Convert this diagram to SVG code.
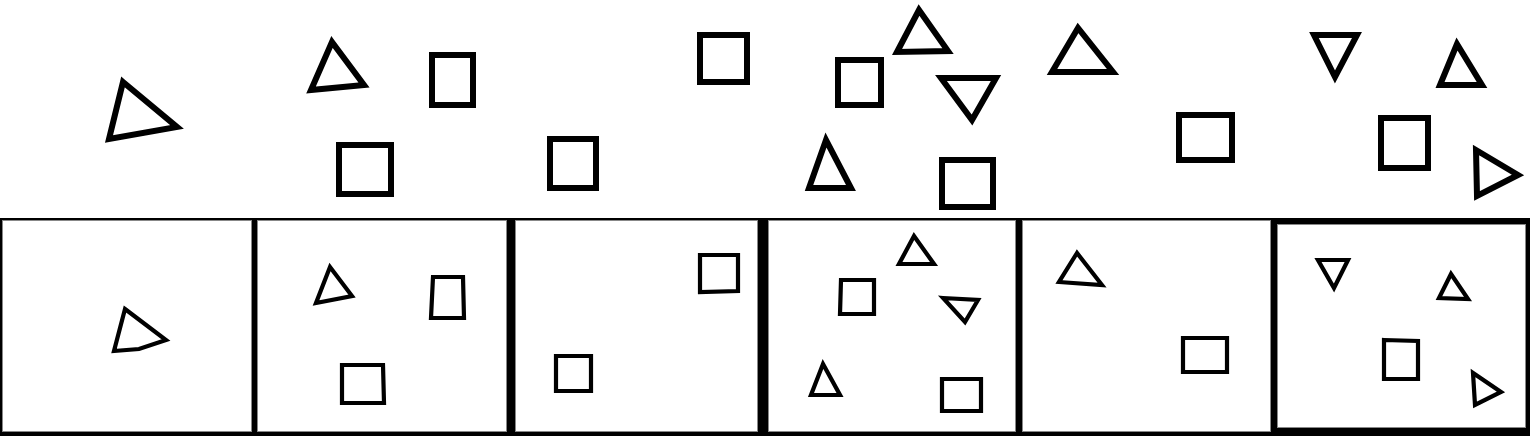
<svg xmlns="http://www.w3.org/2000/svg" width="1530" height="436" viewBox="0 0 1530 436">
<style>
.big{fill:none;stroke:#000;stroke-width:6;stroke-linejoin:miter}
.sm{fill:none;stroke:#000;stroke-width:4.2;stroke-linejoin:miter}
.panel{fill:#fff;stroke:#888;stroke-width:1}
</style>
<rect x="0" y="0" width="1530" height="436" fill="#fff"/>
<g id="scene">
<polygon class="big" points="123,82 177,127 109,139"/>
<polygon class="big" points="332,42 364,85 311,90"/>
<rect class="big" x="432" y="55" width="41" height="50"/>
<rect class="big" x="339" y="145" width="52" height="49"/>
<rect class="big" x="700" y="35" width="47" height="47"/>
<rect class="big" x="838" y="60" width="43" height="45"/>
<polygon class="big" points="919,10 897,52 948,51"/>
<polygon class="big" points="941,78 996,78 972,120"/>
<rect class="big" x="550" y="139" width="46" height="49"/>
<polygon class="big" points="826,140 809,188 851,188"/>
<rect class="big" x="942" y="160" width="51" height="47"/>
<polygon class="big" points="1078,28 1052,72 1113,72"/>
<polygon class="big" points="1314,35 1357,35 1335,77"/>
<polygon class="big" points="1457,44 1440,85 1482,85"/>
<rect class="big" x="1179" y="115" width="53" height="45"/>
<rect class="big" x="1381" y="118" width="47" height="50"/>
<polygon class="big" points="1476,150 1477,196 1518,175"/>
</g>
<g id="strip">
<rect x="0" y="218" width="1530" height="218" fill="#000"/>
<rect class="panel" x="2.5" y="220.5" width="249" height="211"/>
<rect class="panel" x="257.5" y="220.5" width="249" height="211"/>
<rect class="panel" x="515.5" y="220.5" width="242" height="211"/>
<rect class="panel" x="768.5" y="220.5" width="247" height="211"/>
<rect class="panel" x="1022.5" y="220.5" width="248" height="211"/>
<rect class="panel" x="1277.5" y="224.5" width="248" height="203"/>
</g>
<g id="panel1">
<polygon class="sm" points="125,309 166,340 139,349 114,351"/>
</g>
<g id="panel2">
<polygon class="sm" points="330,267 352,296 316,303"/>
<polygon class="sm" points="433,277 463,277 464,318 431,318"/>
<polygon class="sm" points="342,365 383,365 384,403 342,403"/>
</g>
<g id="panel3">
<polygon class="sm" points="700,255 738,255 738,291 700,292"/>
<polygon class="sm" points="556,356 591,356 591,391 556,391"/>
</g>
<g id="panel4">
<polygon class="sm" points="914,236 899,264 934,264"/>
<polygon class="sm" points="841,280 874,280 874,314 840,314"/>
<polygon class="sm" points="943,298 978,300 965,322"/>
<polygon class="sm" points="823,364 811,395 840,395"/>
<polygon class="sm" points="942,379 981,379 981,411 942,411"/>
</g>
<g id="panel5">
<polygon class="sm" points="1077,253 1059,282 1102,285"/>
<polygon class="sm" points="1183,338 1227,338 1227,372 1183,372"/>
</g>
<g id="panel6">
<polygon class="sm" points="1318,260 1348,260 1334,288"/>
<polygon class="sm" points="1451,274 1439,298 1468,299"/>
<polygon class="sm" points="1384,340 1418,341 1418,379 1384,379"/>
<polygon class="sm" points="1473,373 1475,405 1501,392"/>
</g>
</svg>
